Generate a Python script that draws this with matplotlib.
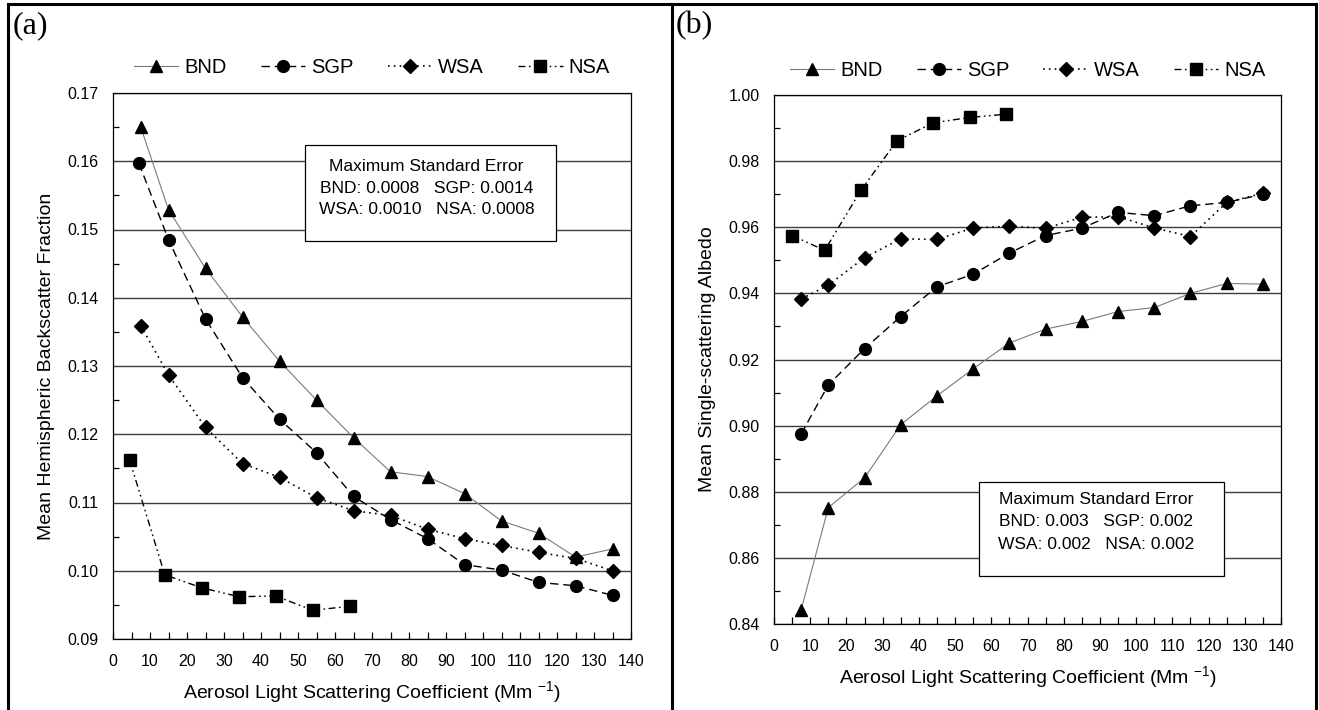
import matplotlib
matplotlib.use("Agg")
import matplotlib.pyplot as plt
from matplotlib.lines import Line2D
from matplotlib.patches import Rectangle
from matplotlib.ticker import MultipleLocator, FormatStrFormatter

plt.rcParams['font.family'] = ['Liberation Sans', 'DejaVu Sans']
plt.rcParams['mathtext.fontset'] = 'custom'
plt.rcParams['mathtext.rm'] = 'Liberation Sans'
plt.rcParams['mathtext.it'] = 'Liberation Sans'

# ---------------- data ----------------
sites = ["BND", "SGP", "WSA", "NSA"]

# panel (a): hemispheric backscatter fraction
a_x_bnd = [7.5, 15, 25, 35, 45, 55, 65, 75, 85, 95, 105, 115, 125, 135]
a_y_bnd = [0.1650, 0.1529, 0.1443, 0.1372, 0.1307, 0.1250, 0.1195, 0.1145,
           0.1138, 0.1113, 0.1073, 0.1055, 0.1020, 0.1032]
a_x_sgp = [7, 15, 25, 35, 45, 55, 65, 75, 85, 95, 105, 115, 125, 135]
a_y_sgp = [0.1597, 0.1485, 0.1369, 0.1283, 0.1222, 0.1173, 0.1109, 0.1075,
           0.1047, 0.1009, 0.1001, 0.0983, 0.0978, 0.0964]
a_x_wsa = [7.5, 15, 25, 35, 45, 55, 65, 75, 85, 95, 105, 115, 125, 135]
a_y_wsa = [0.1359, 0.1287, 0.1210, 0.1157, 0.1137, 0.1107, 0.1088, 0.1081,
           0.1061, 0.1047, 0.1037, 0.1027, 0.1018, 0.1000]
a_x_nsa = [4.5, 14, 24, 34, 44, 54, 64]
a_y_nsa = [0.1162, 0.0994, 0.0975, 0.0962, 0.0963, 0.0942, 0.0948]

# panel (b): single-scattering albedo
b_x_bnd = [7.5, 15, 25, 35, 45, 55, 65, 75, 85, 95, 105, 115, 125, 135]
b_y_bnd = [0.8443, 0.8752, 0.8842, 0.9003, 0.9090, 0.9172, 0.9250, 0.9292,
           0.9315, 0.9345, 0.9357, 0.9400, 0.9430, 0.9428]
b_x_sgp = [7.5, 15, 25, 35, 45, 55, 65, 75, 85, 95, 105, 115, 125, 135]
b_y_sgp = [0.8975, 0.9123, 0.9233, 0.9330, 0.9420, 0.9458, 0.9522, 0.9575,
           0.9597, 0.9645, 0.9635, 0.9665, 0.9675, 0.9700]
b_x_wsa = [7.5, 15, 25, 35, 45, 55, 65, 75, 85, 95, 105, 115, 125, 135]
b_y_wsa = [0.9383, 0.9425, 0.9508, 0.9565, 0.9563, 0.9598, 0.9603, 0.9597,
           0.9630, 0.9632, 0.9598, 0.9572, 0.9675, 0.9703]
b_x_nsa = [5, 14, 24, 34, 44, 54, 64]
b_y_nsa = [0.9575, 0.9530, 0.9712, 0.9862, 0.9916, 0.9932, 0.9942]

a_err_lines = ["Maximum Standard Error",
               "BND: 0.0008   SGP: 0.0014",
               "WSA: 0.0010   NSA: 0.0008"]
b_err_lines = ["Maximum Standard Error",
               "BND: 0.003   SGP: 0.002",
               "WSA: 0.002   NSA: 0.002"]

xlabel = "Aerosol Light Scattering Coefficient (Mm $^{-1}$)"
a_ylabel = "Mean Hemispheric Backscatter Fraction"
b_ylabel = "Mean Single-scattering Albedo"

# ---------------- styles ----------------
styles = {
    "BND": dict(color="#7a7a7a", lw=0.8, ls="-", marker="^", ms=9,
                mfc="black", mec="black"),
    "SGP": dict(color="black", lw=1.0, ls=(0, (6, 3.5)), marker="o", ms=8.5,
                mfc="black", mec="black"),
    "WSA": dict(color="black", lw=1.2, ls=(0, (1, 2.5)), marker="D", ms=7.5,
                mfc="black", mec="black"),
    "NSA": dict(color="black", lw=1.0, ls=(0, (5, 2.5, 1.2, 2.5, 1.2, 2.5)),
                marker="s", ms=8.5, mfc="black", mec="black"),
}

W, H = 1319, 710
fig = plt.figure(figsize=(W / 100, H / 100), dpi=100)


def px_axes(l, r, t, b):
    return fig.add_axes([l / W, 1 - b / H, (r - l) / W, (b - t) / H])


def setup(ax, ylim, ymajor, yminor, yfmt, ylabel):
    ax.set_xlim(0, 140)
    ax.set_ylim(*ylim)
    ax.xaxis.set_major_locator(MultipleLocator(10))
    ax.xaxis.set_minor_locator(MultipleLocator(5))
    ax.yaxis.set_major_locator(MultipleLocator(ymajor))
    ax.yaxis.set_minor_locator(MultipleLocator(yminor))
    ax.yaxis.set_major_formatter(FormatStrFormatter(yfmt))
    ax.grid(axis="y", which="major", color="#3c3c3c", lw=1.0, zorder=0)
    ax.set_axisbelow(True)
    ax.tick_params(which="both", direction="in", labelsize=11.5, colors="black")
    ax.tick_params(axis="x", which="both", length=5, width=0.9, pad=11)
    ax.tick_params(axis="y", which="major", length=0, pad=10.5)
    ax.tick_params(axis="y", which="minor", length=4, width=0.9)
    for s in ax.spines.values():
        s.set_color("black")
        s.set_linewidth(0.9)
    ax.set_xlabel(xlabel, fontsize=14, labelpad=7)
    ax.set_ylabel(ylabel, fontsize=14, labelpad=9)


def draw(ax, series):
    handles = []
    for name, (xs, ys) in zip(sites, series):
        h, = ax.plot(xs, ys, label=name, zorder=3, **styles[name])
        handles.append(h)
    return handles


def err_box(ax, x0, x1, y0, y1, xc, ys, lines):
    ax.add_patch(Rectangle((x0, y0), x1 - x0, y1 - y0, transform=ax.transAxes,
                           facecolor="white", edgecolor="black", lw=0.9,
                           zorder=2))
    for yy, t in zip(ys, lines):
        ax.text(xc, yy, t, transform=ax.transAxes, ha="center", va="center",
                fontsize=12.5, zorder=4)


# panel (a)
ax1 = px_axes(113, 631, 93, 639)
setup(ax1, (0.09, 0.17), 0.01, 0.005, "%.2f", a_ylabel)
h1 = draw(ax1, [(a_x_bnd, a_y_bnd), (a_x_sgp, a_y_sgp),
                (a_x_wsa, a_y_wsa), (a_x_nsa, a_y_nsa)])
err_box(ax1, 0.371, 0.855, 0.729, 0.905, 0.605, [0.866, 0.826, 0.786],
        a_err_lines)
ax1.legend(handles=h1, loc="center", bbox_to_anchor=(0.5, 1.046), ncol=4,
           frameon=False, fontsize=14.5, handlelength=2.2, handletextpad=0.3,
           columnspacing=1.7)

# panel (b)
ax2 = px_axes(774, 1281, 95, 624)
setup(ax2, (0.84, 1.00), 0.02, 0.01, "%.2f", b_ylabel)
h2 = draw(ax2, [(b_x_bnd, b_y_bnd), (b_x_sgp, b_y_sgp),
                (b_x_wsa, b_y_wsa), (b_x_nsa, b_y_nsa)])
err_box(ax2, 0.404, 0.888, 0.091, 0.269, 0.635, [0.235, 0.193, 0.150],
        b_err_lines)
ax2.legend(handles=h2, loc="center", bbox_to_anchor=(0.5, 1.047), ncol=4,
           frameon=False, fontsize=14.5, handlelength=2.2, handletextpad=0.3,
           columnspacing=1.7)

# panel labels
fig.text(13 / W, 1 - 26 / H, "(a)", fontsize=23, family="Liberation Serif",
         ha="left", va="center")
fig.text(676 / W, 1 - 26 / H, "(b)", fontsize=23, family="Liberation Serif",
         ha="left", va="center")

# table-like frame
frame_kw = dict(color="black", lw=2.2, transform=fig.transFigure)
fig.add_artist(Line2D([8 / W, 1316 / W], [1 - 4 / H, 1 - 4 / H], **frame_kw))
for xp in (8, 672, 1316):
    fig.add_artist(Line2D([xp / W, xp / W], [0, 1 - 4 / H], **frame_kw))

fig.savefig("out.png", dpi=100)
